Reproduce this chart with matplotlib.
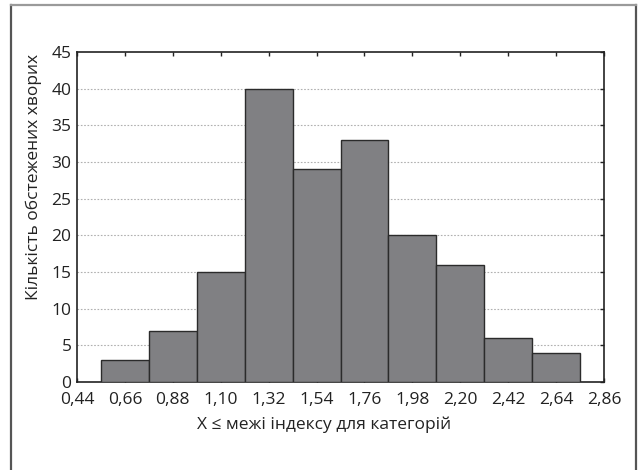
#!/usr/bin/env python3
"""Histogram of the index, count of examined patients per category."""

import matplotlib
matplotlib.use("Agg")
import matplotlib.pyplot as plt
from matplotlib.lines import Line2D

# bin centres and counts
BIN_CENTERS = [0.66, 0.88, 1.10, 1.32, 1.54, 1.76, 1.98, 2.20, 2.42, 2.64]
COUNTS      = [3, 7, 15, 40, 29, 33, 20, 16, 6, 4]
BIN_WIDTH   = 0.22

X_TICKS  = [0.44, 0.66, 0.88, 1.10, 1.32, 1.54, 1.76, 1.98, 2.20, 2.42,
            2.64, 2.86]
Y_TICKS  = [0, 5, 10, 15, 20, 25, 30, 35, 40, 45]

X_LABEL = "X \u2264 межі індексу для категорій"
Y_LABEL = "Кількість обстежених хворих"

plt.rcParams["font.family"] = ["Open Sans", "DejaVu Sans"]
plt.rcParams["font.size"] = 12.5

fig = plt.figure(figsize=(6.38, 4.70), dpi=100)
ax = fig.add_axes([77 / 638, 1 - 382 / 470, (604 - 77) / 638, (382 - 52) / 470])

ax.bar(BIN_CENTERS, COUNTS, width=BIN_WIDTH, color="#808083",
       edgecolor="#2b2b2b", linewidth=1.0, zorder=3)

ax.set_xlim(X_TICKS[0], X_TICKS[-1])
ax.set_ylim(0, 45)
ax.set_xticks(X_TICKS)
ax.set_xticklabels([f"{v:.2f}".replace(".", ",") for v in X_TICKS])
ax.set_yticks(Y_TICKS)

for y in Y_TICKS[1:-1]:
    ax.axhline(y, color="#b0b0b0", linestyle=(0, (1.5, 1.5)),
               linewidth=0.8, zorder=1)

ax.tick_params(axis="x", direction="in", length=3, width=1, pad=7,
               top=True, colors="#222222", labelcolor="#222222")
ax.tick_params(axis="y", direction="in", length=3, width=1, pad=4,
               left=False, right=True, colors="#222222",
               labelcolor="#222222")
for s in ax.spines.values():
    s.set_linewidth(1.2)
    s.set_color("#222222")

ax.set_xlabel(X_LABEL, color="#222222")
ax.set_ylabel(Y_LABEL, color="#222222")
ax.xaxis.set_label_coords((324 - 77) / 527, -(425 - 382) / 330)
ax.yaxis.set_label_coords(-(77 - 34) / 527, (382 - 177) / 330)
ax.xaxis.label.set_va("center")
ax.yaxis.label.set_va("center")

# outer frame of the figure (no bottom edge visible)
fig.add_artist(Line2D([11 / 638, 11 / 638], [0, 1 - 5 / 470],
                      transform=fig.transFigure, color="#555555", lw=1.6))
fig.add_artist(Line2D([636 / 638, 636 / 638], [0, 1 - 5 / 470],
                      transform=fig.transFigure, color="#555555", lw=1.6))
fig.add_artist(Line2D([11 / 638, 636 / 638], [1 - 5 / 470, 1 - 5 / 470],
                      transform=fig.transFigure, color="#9a9a9a", lw=1.6))

fig.savefig("out.png", dpi=100)
